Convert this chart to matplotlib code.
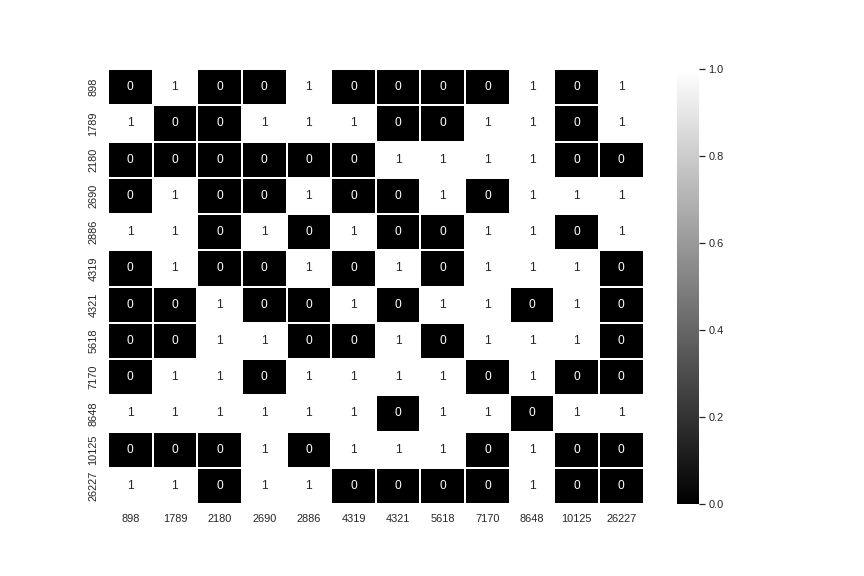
import numpy as np
import matplotlib
matplotlib.use("Agg")
import matplotlib.pyplot as plt
import seaborn as sns

labels = ["898", "1789", "2180", "2690", "2886", "4319", "4321",
          "5618", "7170", "8648", "10125", "26227"]

matrix = [
    [0, 1, 0, 0, 1, 0, 0, 0, 0, 1, 0, 1],
    [1, 0, 0, 1, 1, 1, 0, 0, 1, 1, 0, 1],
    [0, 0, 0, 0, 0, 0, 1, 1, 1, 1, 0, 0],
    [0, 1, 0, 0, 1, 0, 0, 1, 0, 1, 1, 1],
    [1, 1, 0, 1, 0, 1, 0, 0, 1, 1, 0, 1],
    [0, 1, 0, 0, 1, 0, 1, 0, 1, 1, 1, 0],
    [0, 0, 1, 0, 0, 1, 0, 1, 1, 0, 1, 0],
    [0, 0, 1, 1, 0, 0, 1, 0, 1, 1, 1, 0],
    [0, 1, 1, 0, 1, 1, 1, 1, 0, 1, 0, 0],
    [1, 1, 1, 1, 1, 1, 0, 1, 1, 0, 1, 1],
    [0, 0, 0, 1, 0, 1, 1, 1, 0, 1, 0, 0],
    [1, 1, 0, 1, 1, 0, 0, 0, 0, 1, 0, 0],
]

sns.set_theme(style="white")
plt.rcParams["font.family"] = ["Liberation Sans", "DejaVu Sans"]

fig, ax = plt.subplots(figsize=(12, 8), dpi=72)
sns.heatmap(np.array(matrix), annot=True, cmap="gray", linewidths=1.5,
            linecolor="white", xticklabels=labels, yticklabels=labels, ax=ax)
fig.subplots_adjust(bottom=0.125, top=0.88)

fig.savefig("out.png", dpi=72)
